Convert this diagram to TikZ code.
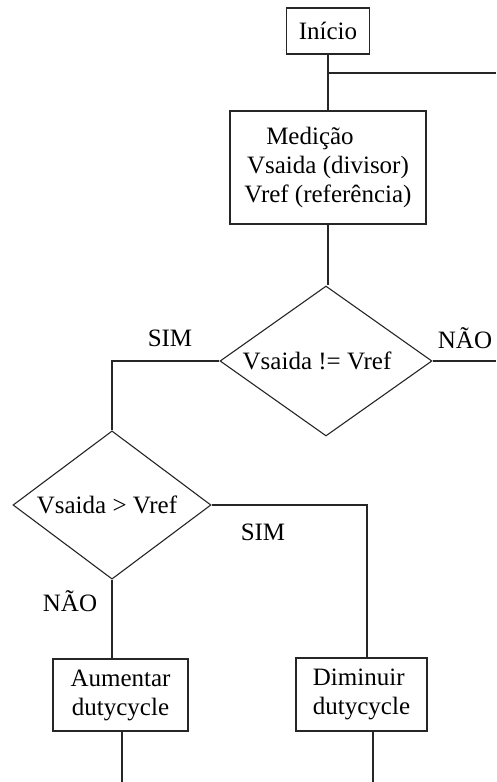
\documentclass[tikz,border=0pt]{standalone}
\usepackage{fontspec}
\setmainfont{Liberation Serif}
\usetikzlibrary{shapes.geometric}
\begin{document}
\begin{tikzpicture}[x=1pt,y=-1pt,
  every node/.style={font=\fontsize{25}{29}\selectfont, text=black},
  box/.style={draw=black!85, line width=1.3pt, rectangle, inner sep=0pt, align=center},
  dec/.style={draw=black!85, line width=1.1pt, diamond, inner sep=0pt},
  conn/.style={draw=black!85, line width=1.3pt},
  lbl/.style={inner sep=0pt}]
\useasboundingbox (0,0) rectangle (496,782);
\node[box, minimum width=83pt, minimum height=46pt] (inicio) at (328,31) {Início};
\node[box, minimum width=196pt, minimum height=113pt] (medicao) at (328,167.5)
  {Medição\hspace*{36pt}\\Vsaida (divisor)\\Vref (referência)};
\node[dec, minimum width=212pt, minimum height=150pt] (d1) at (326,361) {\hspace*{-18pt}Vsaida != Vref};
\node[dec, minimum width=198pt, minimum height=130pt] (d2) at (112,505) {\hspace*{-10pt}Vsaida > Vref};
\node[box, minimum width=135pt, minimum height=72pt] (aum) at (120.5,695) {Aumentar\\dutycycle};
\node[box, align=left, minimum width=131pt, minimum height=73pt] (dim) at (361.5,694.5) {Diminuir\\dutycycle};

\coordinate (j1) at (inicio.south |- 0,73);
\coordinate (e1) at (496,73);
\coordinate (e2) at (496,361);
\coordinate (c2) at (367,505);
\coordinate (b1) at ([xshift=1.5pt]aum.south |- 0,782);
\coordinate (b2) at (373,782);

\draw[conn] (inicio.south) -- (inicio.south |- medicao.north);
\draw[conn] (j1) -- (e1);
\draw[conn] (inicio.south |- medicao.south) -- (inicio.south |- d1.north);
\draw[conn] (d1.west) -- (d1.west -| d2.north) -- (d2.north);
\draw[conn] (d1.east) -- (e2);
\draw[conn] (d2.east) -- (c2) -- (c2 |- dim.north);
\draw[conn] (d2.south) -- (d2.south |- aum.north);
\draw[conn] (b1 |- aum.south) -- (b1);
\draw[conn] (b2 |- dim.south) -- (b2);

\node[lbl] (s1) at (170,338) {SIM};
\node[lbl] (n1) at (465,338) {NÃO};
\node[lbl] (s2) at (263,532) {SIM};
\node[lbl] (n2) at (70,601) {NÃO};
\end{tikzpicture}
\end{document}
